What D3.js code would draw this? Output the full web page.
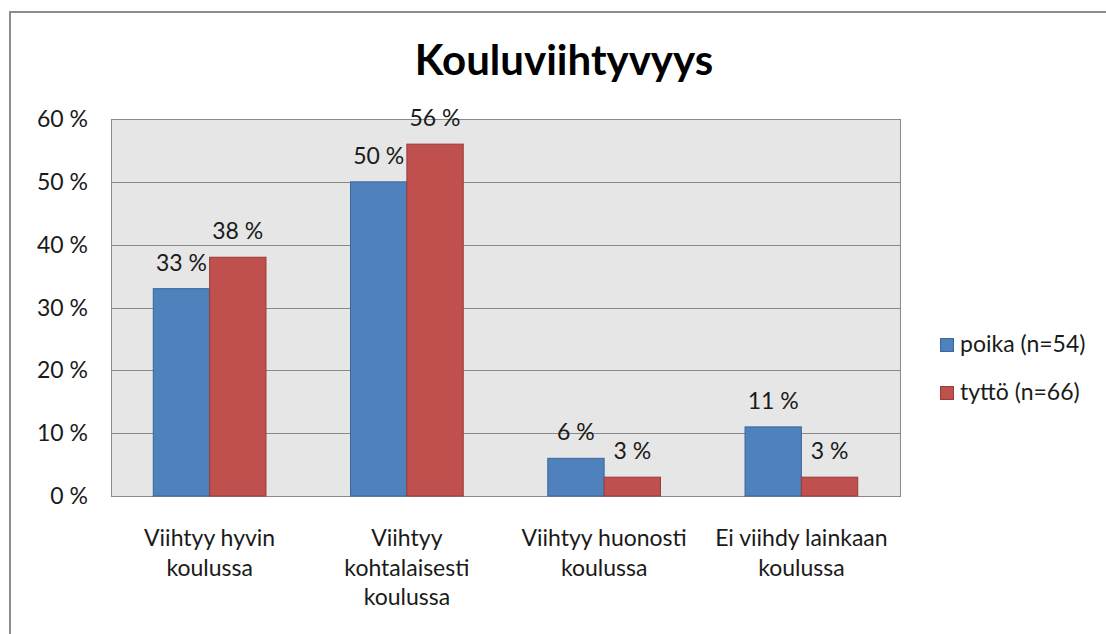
<!DOCTYPE html>
<html>
<head>
<meta charset="utf-8">
<script src="https://d3js.org/d3.v7.min.js"></script>
<style>
  body { margin: 0; background: #fff; }
  text { font-family: Lato, "Open Sans", sans-serif; fill: #1a1a1a; }
</style>
</head>
<body>
<svg id="chart" width="1106" height="634"></svg>
<script>
// data
var categories = [
  ["Viihtyy hyvin", "koulussa"],
  ["Viihtyy", "kohtalaisesti", "koulussa"],
  ["Viihtyy huonosti", "koulussa"],
  ["Ei viihdy lainkaan", "koulussa"]
];
var seriesNames = ["poika (n=54)", "tyttö (n=66)"];
var poika = [33, 50, 6, 11];
var tytto = [38, 56, 3, 3];
var yTicks = [0, 10, 20, 30, 40, 50, 60];

var colors = ["#4F81BD", "#C0504D"];
var strokes = ["#3A679E", "#983C3A"];

var svg = d3.select("#chart");

var pLeft = 111, pRight = 900, pTop = 119, pBottom = 496;
var fs = "23px";

// outer frame (only top and left visible)
svg.append("rect")
  .attr("x", 10).attr("y", 12)
  .attr("width", 1200).attr("height", 800)
  .attr("fill", "none")
  .attr("stroke", "#8c8c8c")
  .attr("stroke-width", 2);

svg.append("text")
  .attr("x", 564).attr("y", 75)
  .attr("text-anchor", "middle")
  .style("font-size", "42px")
  .style("font-weight", "bold")
  .style("fill", "#000")
  .text("Kouluviihtyvyys");

var y = d3.scaleLinear().domain([0, 60]).range([pBottom, pTop]);
var x0 = d3.scaleBand().domain(d3.range(categories.length)).range([pLeft, pRight]);
// gap width 150% of a bar
var barW = x0.bandwidth() / 3.5;

svg.append("rect")
  .attr("x", pLeft).attr("y", pTop)
  .attr("width", pRight - pLeft).attr("height", pBottom - pTop)
  .attr("fill", "#e6e6e6");

svg.selectAll(".grid").data(yTicks.slice(1, -1)).enter()
  .append("line")
  .attr("x1", pLeft).attr("x2", pRight)
  .attr("y1", function(d){ return Math.round(y(d)) + 0.5; })
  .attr("y2", function(d){ return Math.round(y(d)) + 0.5; })
  .attr("stroke", "#888")
  .attr("stroke-width", 1);

svg.append("rect")
  .attr("x", pLeft + 0.5).attr("y", pTop + 0.5)
  .attr("width", pRight - pLeft).attr("height", pBottom - pTop)
  .attr("fill", "none")
  .attr("stroke", "#8a8a8a")
  .attr("stroke-width", 1);

svg.selectAll(".ylab").data(yTicks).enter()
  .append("text")
  .attr("x", 88)
  .attr("y", function(d){ return y(d) + 8; })
  .attr("text-anchor", "end")
  .style("font-size", fs)
  .text(function(d){ return d + " %"; });

[poika, tytto].forEach(function(vals, s) {
  var g = svg.append("g");
  g.selectAll("rect").data(vals).enter()
    .append("rect")
    .attr("x", function(d, i){ return x0(i) + barW * 0.75 + s * barW; })
    .attr("y", function(d){ return y(d); })
    .attr("width", barW)
    .attr("height", function(d){ return pBottom - y(d); })
    .attr("fill", colors[s])
    .attr("stroke", strokes[s])
    .attr("stroke-width", 1);
  g.selectAll("text").data(vals).enter()
    .append("text")
    .attr("x", function(d, i){ return x0(i) + barW * 1.25 + s * barW; })
    .attr("y", function(d){ return y(d) - 18; })
    .attr("text-anchor", "middle")
    .style("font-size", fs)
    .text(function(d){ return d + " %"; });
});

categories.forEach(function(lines, i) {
  var t = svg.append("text")
    .attr("x", x0(i) + x0.bandwidth() / 2)
    .attr("y", 546)
    .attr("text-anchor", "middle")
    .style("font-size", fs);
  lines.forEach(function(l, k) {
    t.append("tspan")
      .attr("x", x0(i) + x0.bandwidth() / 2)
      .attr("dy", k === 0 ? 0 : 29.5)
      .text(l);
  });
});

// legend
seriesNames.forEach(function(n, s) {
  var cy = 345 + s * 48;
  svg.append("rect")
    .attr("x", 940.5).attr("y", cy - 7 + 0.5)
    .attr("width", 13).attr("height", 13)
    .attr("fill", colors[s])
    .attr("stroke", strokes[s]);
  svg.append("text")
    .attr("x", 960).attr("y", cy + 7)
    .style("font-size", fs)
    .text(n);
});
</script>
</body>
</html>
